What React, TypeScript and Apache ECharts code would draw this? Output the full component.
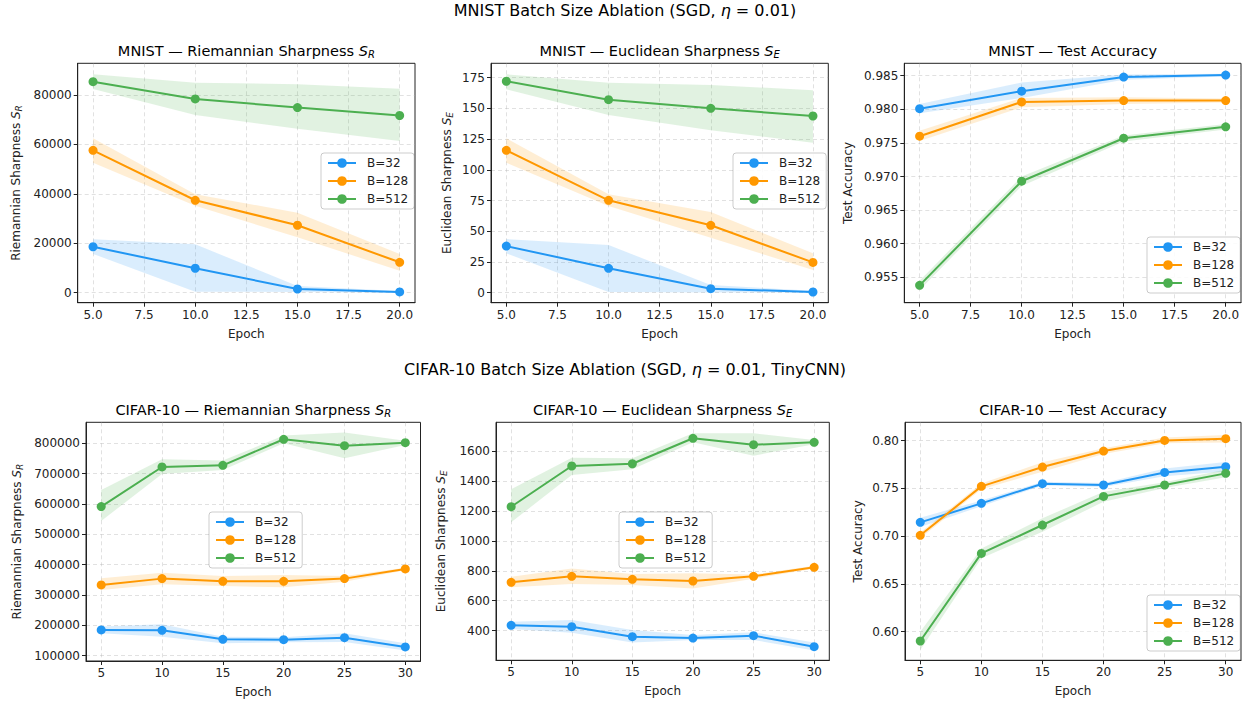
import React, { useEffect, useRef } from "react";
import * as echarts from "echarts";

// ---------------- data ----------------
const mnistEpochs = [5, 10, 15, 20];
const cifarEpochs = [5, 10, 15, 20, 25, 30];
const batchNames = ["B=32", "B=128", "B=512"];
const colors = ["#2196F3", "#FF9800", "#4CAF50"];

const mnistXTicks = [5, 7.5, 10, 12.5, 15, 17.5, 20];
const cifarXTicks = [5, 10, 15, 20, 25, 30];

// MNIST Riemannian sharpness
const mnistR32 = [18600, 9900, 1500, 300];
const mnistR32Lo = [15700, 400, 300, 0];
const mnistR32Hi = [21600, 19600, 2700, 700];
const mnistR128 = [57600, 37400, 27300, 12300];
const mnistR128Lo = [52600, 35200, 22400, 8900];
const mnistR128Hi = [62500, 39800, 32400, 15700];
const mnistR512 = [85400, 78400, 74900, 71700];
const mnistR512Lo = [82400, 71900, 66300, 61400];
const mnistR512Hi = [88400, 85000, 84400, 82500];
const mnistRYTicks = [0, 20000, 40000, 60000, 80000];

// MNIST Euclidean sharpness
const mnistE32 = [38.0, 19.9, 3.3, 0.6];
const mnistE32Lo = [32.1, 0.6, 0.3, 0];
const mnistE32Hi = [43.7, 38.8, 6.3, 1.6];
const mnistE128 = [115.9, 75.2, 54.9, 24.7];
const mnistE128Lo = [105.8, 70.6, 44.8, 18.5];
const mnistE128Hi = [125.7, 80.1, 65.7, 32.1];
const mnistE512 = [172.1, 157.1, 150.1, 143.8];
const mnistE512Lo = [165.6, 144.7, 132.2, 122.1];
const mnistE512Hi = [177.8, 170.9, 169.1, 164.8];
const mnistEYTicks = [0, 25, 50, 75, 100, 125, 150, 175];

// MNIST test accuracy
const mnistA32 = [0.9801, 0.9827, 0.9848, 0.9851];
const mnistA32Lo = [0.9794, 0.9817, 0.9844, 0.9849];
const mnistA32Hi = [0.9808, 0.984, 0.9852, 0.9853];
const mnistA128 = [0.976, 0.9811, 0.9813, 0.9813];
const mnistA128Lo = [0.9753, 0.9803, 0.9808, 0.981];
const mnistA128Hi = [0.9768, 0.9817, 0.9818, 0.9816];
const mnistA512 = [0.9538, 0.9693, 0.9757, 0.9774];
const mnistA512Lo = [0.9531, 0.9686, 0.9752, 0.977];
const mnistA512Hi = [0.9545, 0.97, 0.9761, 0.9778];
const mnistAYTicks = [0.955, 0.96, 0.965, 0.97, 0.975, 0.98, 0.985];

// CIFAR-10 Riemannian sharpness
const cifarR32 = [184800, 183700, 154000, 152900, 159500, 128800];
const cifarR32Lo = [173800, 162800, 140800, 144000, 145300, 116700];
const cifarR32Hi = [195800, 203800, 162800, 161000, 173800, 140800];
const cifarR128 = [333100, 354000, 345200, 345200, 354000, 385800];
const cifarR128Lo = [316600, 335300, 329800, 325400, 344000, 381800];
const cifarR128Hi = [355000, 373700, 362800, 366000, 362800, 389800];
const cifarR512 = [591300, 722000, 727500, 813200, 792300, 802200];
const cifarR512Lo = [544000, 698900, 712100, 800000, 750600, 794500];
const cifarR512Hi = [646200, 747300, 742900, 825300, 835200, 808800];
const cifarRYTicks = [100000, 200000, 300000, 400000, 500000, 600000, 700000, 800000];

// CIFAR-10 Euclidean sharpness
const cifarE32 = [436, 427, 360, 351, 367, 293];
const cifarE32Lo = [411, 387, 322, 338, 338, 267];
const cifarE32Hi = [460, 471, 405, 371, 389, 322];
const cifarE128 = [723, 763, 743, 732, 763, 823];
const cifarE128Lo = [690, 712, 705, 681, 747, 813];
const cifarE128Hi = [761, 816, 779, 783, 776, 833];
const cifarE512 = [1228, 1500, 1515, 1685, 1642, 1658];
const cifarE512Lo = [1124, 1440, 1478, 1658, 1569, 1645];
const cifarE512Hi = [1344, 1555, 1551, 1718, 1718, 1673];
const cifarEYTicks = [400, 600, 800, 1000, 1200, 1400, 1600];

// CIFAR-10 test accuracy
const cifarA32 = [0.7145, 0.7344, 0.755, 0.7536, 0.7668, 0.7728];
const cifarA32Lo = [0.7096, 0.7314, 0.753, 0.7516, 0.7628, 0.7678];
const cifarA32Hi = [0.7194, 0.7374, 0.757, 0.7556, 0.7708, 0.7778];
const cifarA128 = [0.7009, 0.7522, 0.7724, 0.7892, 0.8003, 0.8021];
const cifarA128Lo = [0.6979, 0.7492, 0.7674, 0.7862, 0.7973, 0.7981];
const cifarA128Hi = [0.7039, 0.7552, 0.7774, 0.7922, 0.8033, 0.8061];
const cifarA512 = [0.5902, 0.682, 0.7117, 0.7417, 0.7536, 0.7658];
const cifarA512Lo = [0.5808, 0.677, 0.7047, 0.7361, 0.7506, 0.7618];
const cifarA512Hi = [0.6, 0.687, 0.7187, 0.7466, 0.7566, 0.7698];
const cifarAYTicks = [0.6, 0.65, 0.7, 0.75, 0.8];

// ---------------- layout ----------------
const FONT = "DejaVu Sans";
const TXT = "#222222";

type Panel = {
  title: string;
  ylabel: string;
  epochs: number[];
  means: number[][];
  los: number[][];
  his: number[][];
  grid: { left: number; top: number; width: number; height: number };
  xMin: number;
  xMax: number;
  xTicks: number[];
  xFmt: (v: number) => string;
  yMin: number;
  yMax: number;
  yTicks: number[];
  yFmt: (v: number) => string;
  yGap: number;
  legend: { left: number; top: number };
};

const subRich = {
  t: { fontSize: 14.5, fontFamily: FONT, color: TXT },
  s: { fontSize: 14.5, fontFamily: FONT, fontStyle: "italic", color: TXT },
  b: { fontSize: 10, fontFamily: FONT, fontStyle: "italic", color: TXT, padding: [7, 0, 0, 0] },
};
const axRich = {
  t: { fontSize: 12, fontFamily: FONT, color: TXT },
  s: { fontSize: 12, fontFamily: FONT, fontStyle: "italic", color: TXT },
  b: { fontSize: 9, fontFamily: FONT, fontStyle: "italic", color: TXT, padding: [6, 0, 0, 0] },
};

const fx1 = (v: number) => v.toFixed(1);
const fx0 = (v: number) => String(Math.round(v));

const panels: Panel[] = [
  {
    title: "{t|MNIST — Riemannian Sharpness }{s|S}{b|R}",
    ylabel: "{t|Riemannian Sharpness }{s|S}{b|R}",
    epochs: mnistEpochs,
    means: [mnistR32, mnistR128, mnistR512],
    los: [mnistR32Lo, mnistR128Lo, mnistR512Lo],
    his: [mnistR32Hi, mnistR128Hi, mnistR512Hi],
    grid: { left: 77.7, top: 63.3, width: 337.3, height: 239.4 },
    xMin: 4.25, xMax: 20.75, xTicks: mnistXTicks, xFmt: fx1,
    yMin: -4050, yMax: 92830, yTicks: mnistRYTicks, yFmt: fx0,
    yGap: 54,
    legend: { left: 321, top: 153 },
  },
  {
    title: "{t|MNIST — Euclidean Sharpness }{s|S}{b|E}",
    ylabel: "{t|Euclidean Sharpness }{s|S}{b|E}",
    epochs: mnistEpochs,
    means: [mnistE32, mnistE128, mnistE512],
    los: [mnistE32Lo, mnistE128Lo, mnistE512Lo],
    his: [mnistE32Hi, mnistE128Hi, mnistE512Hi],
    grid: { left: 491, top: 63.3, width: 337.3, height: 239.4 },
    xMin: 4.25, xMax: 20.75, xTicks: mnistXTicks, xFmt: fx1,
    yMin: -8.1, yMax: 186.7, yTicks: mnistEYTicks, yFmt: fx0,
    yGap: 37,
    legend: { left: 733, top: 153 },
  },
  {
    title: "{t|MNIST — Test Accuracy}",
    ylabel: "{t|Test Accuracy}",
    epochs: mnistEpochs,
    means: [mnistA32, mnistA128, mnistA512],
    los: [mnistA32Lo, mnistA128Lo, mnistA512Lo],
    his: [mnistA32Hi, mnistA128Hi, mnistA512Hi],
    grid: { left: 904.3, top: 63.3, width: 336.7, height: 239.4 },
    xMin: 4.25, xMax: 20.75, xTicks: mnistXTicks, xFmt: fx1,
    yMin: 0.95122, yMax: 0.98685, yTicks: mnistAYTicks, yFmt: (v) => v.toFixed(3),
    yGap: 50,
    legend: { left: 1147, top: 237 },
  },
  {
    title: "{t|CIFAR-10 — Riemannian Sharpness }{s|S}{b|R}",
    ylabel: "{t|Riemannian Sharpness }{s|S}{b|R}",
    epochs: cifarEpochs,
    means: [cifarR32, cifarR128, cifarR512],
    los: [cifarR32Lo, cifarR128Lo, cifarR512Lo],
    his: [cifarR32Hi, cifarR128Hi, cifarR512Hi],
    grid: { left: 86, top: 422.3, width: 334.5, height: 238.7 },
    xMin: 3.75, xMax: 31.25, xTicks: cifarXTicks, xFmt: fx0,
    yMin: 82500, yMax: 869200, yTicks: cifarRYTicks, yFmt: fx0,
    yGap: 62,
    legend: { left: 209, top: 512 },
  },
  {
    title: "{t|CIFAR-10 — Euclidean Sharpness }{s|S}{b|E}",
    ylabel: "{t|Euclidean Sharpness }{s|S}{b|E}",
    epochs: cifarEpochs,
    means: [cifarE32, cifarE128, cifarE512],
    los: [cifarE32Lo, cifarE128Lo, cifarE512Lo],
    his: [cifarE32Hi, cifarE128Hi, cifarE512Hi],
    grid: { left: 496, top: 422.3, width: 333.3, height: 238 },
    xMin: 3.75, xMax: 31.25, xTicks: cifarXTicks, xFmt: fx0,
    yMin: 202.3, yMax: 1791.7, yTicks: cifarEYTicks, yFmt: fx0,
    yGap: 48,
    legend: { left: 619, top: 512 },
  },
  {
    title: "{t|CIFAR-10 — Test Accuracy}",
    ylabel: "{t|Test Accuracy}",
    epochs: cifarEpochs,
    means: [cifarA32, cifarA128, cifarA512],
    los: [cifarA32Lo, cifarA128Lo, cifarA512Lo],
    his: [cifarA32Hi, cifarA128Hi, cifarA512Hi],
    grid: { left: 905, top: 422.3, width: 336, height: 238 },
    xMin: 3.75, xMax: 31.25, xTicks: cifarXTicks, xFmt: fx0,
    yMin: 0.57, yMax: 0.8193, yTicks: cifarAYTicks, yFmt: (v) => v.toFixed(2),
    yGap: 41,
    legend: { left: 1147, top: 595 },
  },
];

function hexToRgba(hex: string, a: number) {
  const n = parseInt(hex.slice(1), 16);
  return `rgba(${(n >> 16) & 255},${(n >> 8) & 255},${n & 255},${a})`;
}

function buildOption() {
  const grids: any[] = [];
  const xAxes: any[] = [];
  const yAxes: any[] = [];
  const series: any[] = [];
  const legends: any[] = [];
  const graphics: any[] = [];

  const splitLine = {
    show: true,
    lineStyle: { color: "rgba(170,170,170,0.45)", type: [4, 3], width: 0.8 },
  };

  panels.forEach((p, k) => {
    grids.push({
      left: p.grid.left,
      top: p.grid.top,
      width: p.grid.width,
      height: p.grid.height,
      show: true,
      borderColor: "#222",
      borderWidth: 1,
      backgroundColor: "transparent",
      containLabel: false,
    });
    xAxes.push({
      type: "value",
      gridIndex: k,
      min: p.xMin,
      max: p.xMax,
      name: "Epoch",
      nameLocation: "middle",
      nameGap: 25,
      nameTextStyle: { fontFamily: FONT, fontSize: 12, color: TXT },
      axisLine: { show: true, onZero: false, lineStyle: { color: "#222", width: 1 } },
      axisTick: { show: true, length: 4, customValues: p.xTicks, lineStyle: { color: "#222" } },
      axisLabel: {
        customValues: p.xTicks,
        formatter: (v: number) => p.xFmt(v),
        fontFamily: FONT,
        fontSize: 12,
        color: TXT,
        margin: 6,
      },
      splitLine,
    });
    yAxes.push({
      type: "value",
      gridIndex: k,
      min: p.yMin,
      max: p.yMax,
      name: p.ylabel,
      nameLocation: "middle",
      nameRotate: 90,
      nameGap: p.yGap,
      nameTextStyle: { rich: axRich },
      axisLine: { show: true, onZero: false, lineStyle: { color: "#222", width: 1 } },
      axisTick: { show: true, length: 4, customValues: p.yTicks, lineStyle: { color: "#222" } },
      axisLabel: {
        customValues: p.yTicks,
        formatter: (v: number) => p.yFmt(v),
        fontFamily: FONT,
        fontSize: 12,
        color: TXT,
        margin: 6,
      },
      splitLine,
    });

    for (let s = 0; s < 3; s++) {
      const lo = p.los[s];
      const hi = p.his[s];
      const epochs = p.epochs;
      const color = colors[s];
      series.push({
        type: "custom",
        name: `band-${k}-${s}`,
        xAxisIndex: k,
        yAxisIndex: k,
        silent: true,
        z: 1,
        data: epochs.map((e, i) => [e, lo[i], hi[i]]),
        encode: { x: 0, y: [1, 2] },
        renderItem: (params: any, api: any) => {
          if (params.dataIndex !== 0) return null;
          const top = epochs.map((e, i) => api.coord([e, hi[i]]));
          const bot = epochs.map((e, i) => api.coord([e, lo[i]])).reverse();
          return {
            type: "polygon",
            shape: { points: top.concat(bot) },
            style: { fill: hexToRgba(color, 0.17), stroke: "none" },
          };
        },
      });
    }
    for (let s = 0; s < 3; s++) {
      series.push({
        type: "line",
        name: batchNames[s],
        xAxisIndex: k,
        yAxisIndex: k,
        z: 3,
        data: p.epochs.map((e, i) => [e, p.means[s][i]]),
        symbol: "circle",
        symbolSize: 9,
        showSymbol: true,
        color: colors[s],
        itemStyle: { color: colors[s] },
        lineStyle: { color: colors[s], width: 2 },
      });
    }

    legends.push({
      data: batchNames,
      orient: "vertical",
      left: p.legend.left,
      top: p.legend.top,
      itemWidth: 28,
      itemHeight: 12,
      itemGap: 6,
      padding: [4, 6, 4, 6],
      backgroundColor: "rgba(255,255,255,0.85)",
      borderColor: "rgba(0,0,0,0.2)",
      borderWidth: 1,
      borderRadius: 3,
      selectedMode: false,
      textStyle: { fontFamily: FONT, fontSize: 12, color: TXT, padding: [0, 0, 0, 6] },
    });

    graphics.push({
      type: "text",
      x: p.grid.left + p.grid.width / 2,
      y: p.grid.top - 12,
      style: {
        text: p.title,
        rich: subRich,
        align: "center",
        verticalAlign: "middle",
      },
    });
  });

  const supRich = {
    t: { fontSize: 16, fontFamily: FONT, color: TXT },
    e: { fontSize: 16, fontFamily: FONT, fontStyle: "italic", color: TXT },
  };
  graphics.push({
    type: "text",
    x: 625,
    y: 10,
    style: {
      text: "{t|MNIST Batch Size Ablation (SGD, }{e|η}{t| = 0.01)}",
      rich: supRich,
      align: "center",
      verticalAlign: "middle",
    },
  });
  graphics.push({
    type: "text",
    x: 625,
    y: 369,
    style: {
      text: "{t|CIFAR-10 Batch Size Ablation (SGD, }{e|η}{t| = 0.01, TinyCNN)}",
      rich: supRich,
      align: "center",
      verticalAlign: "middle",
    },
  });

  return {
    animation: false,
    backgroundColor: "#ffffff",
    textStyle: { fontFamily: FONT },
    grid: grids,
    xAxis: xAxes,
    yAxis: yAxes,
    legend: legends,
    series,
    graphic: graphics,
  };
}

export default function App() {
  const ref = useRef<HTMLDivElement>(null);
  useEffect(() => {
    if (!ref.current) return;
    const chart = echarts.init(ref.current, undefined, { renderer: "svg" });
    chart.setOption(buildOption() as any);
    return () => chart.dispose();
  }, []);
  return (
    <div
      ref={ref}
      style={{ position: "absolute", left: 0, top: 0, width: 1250, height: 702, background: "#fff" }}
    />
  );
}
